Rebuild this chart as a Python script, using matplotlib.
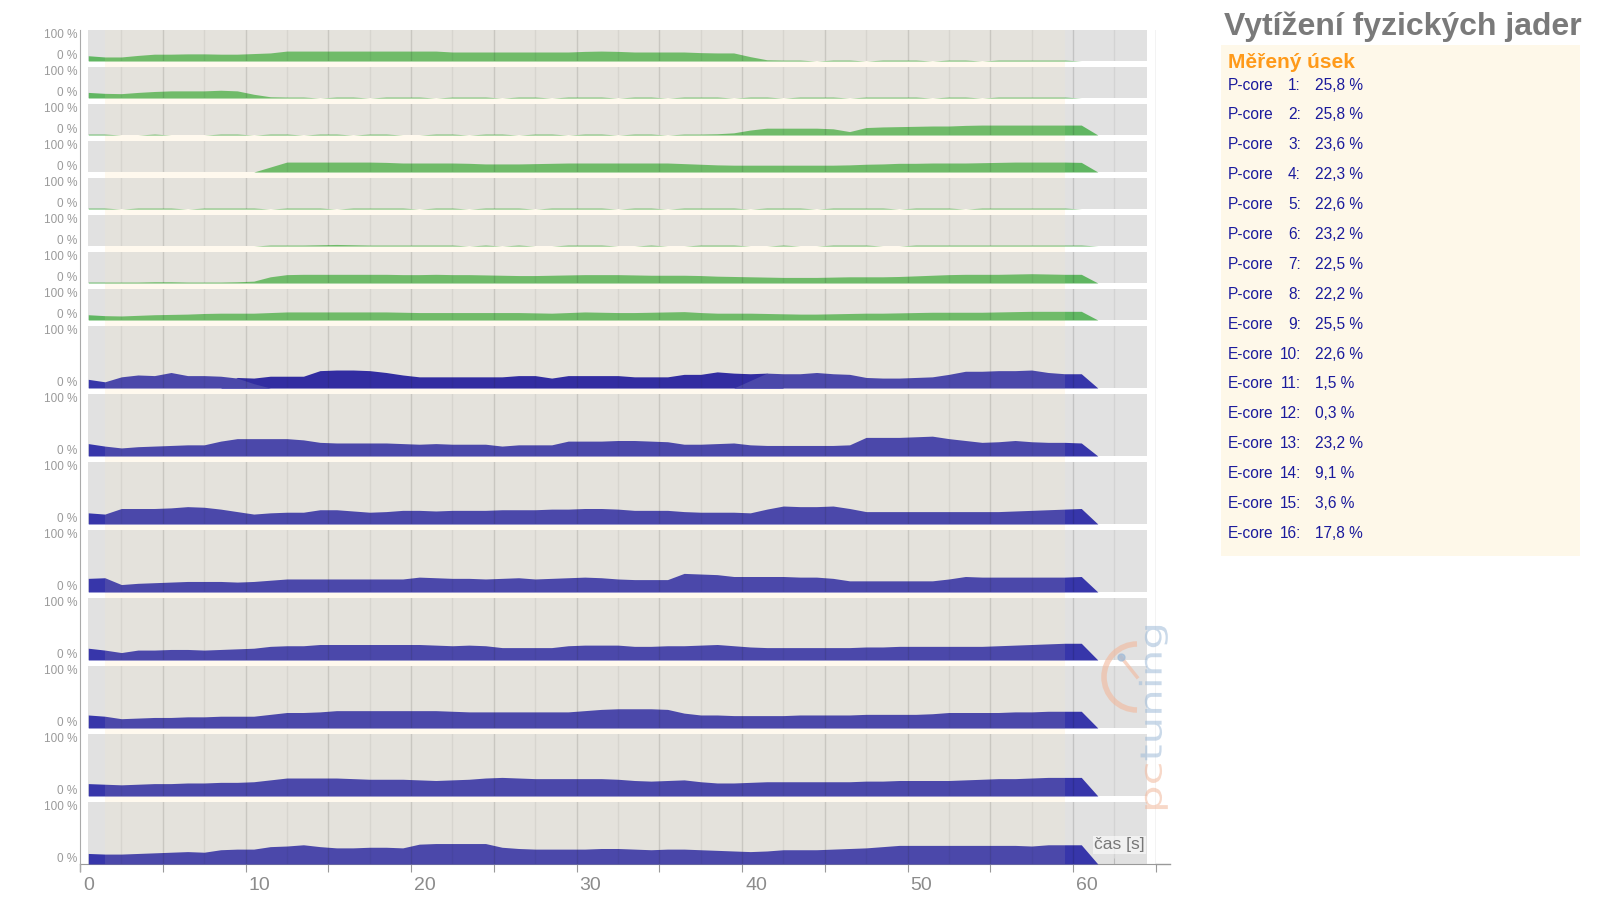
import numpy as np
import matplotlib.pyplot as plt
import matplotlib.transforms as mtrans
from matplotlib import font_manager
from matplotlib.font_manager import FontProperties
from matplotlib.patches import Rectangle, Arc, PathPatch
from matplotlib.textpath import TextPath

W, H = 1599, 897

# samples every second, drawn at the middle of each second
time = np.arange(61) + 0.5
t_end = 61.5

p1 = [17, 13, 13, 18, 22, 22, 23, 23, 22, 22, 24, 26, 32, 32, 32, 32, 32, 32, 32, 32,
      32, 32, 29, 29, 29, 29, 29, 29, 29, 29, 31, 32, 31, 29, 29, 29, 29, 27, 26, 26,
      14, 4, 3, 3, 0, 3, 3, 0, 3, 3, 3, 0, 3, 3, 0, 3, 3, 3, 3, 3, 0]
p2 = [18, 15, 14, 18, 21, 23, 23, 23, 25, 23, 12, 4, 3, 3, 0, 3, 3, 0, 3, 3,
      3, 0, 3, 3, 3, 0, 3, 3, 0, 3, 3, 3, 0, 3, 3, 0, 3, 3, 3, 0,
      3, 3, 0, 3, 3, 3, 0, 3, 3, 3, 3, 0, 3, 3, 0, 3, 3, 3, 3, 3, 0]
p3 = [3, 3, 0, 0, 3, 0, 0, 0, 3, 3, 0, 3, 3, 0, 3, 3, 0, 3, 3, 0,
      0, 3, 3, 0, 3, 3, 0, 3, 3, 0, 3, 3, 0, 3, 3, 0, 3, 3, 4, 7,
      16, 22, 22, 22, 22, 20, 11, 24, 26, 27, 28, 29, 29, 31, 32, 32, 32, 32, 32, 32, 32]
p4 = [0, 0, 0, 0, 0, 0, 0, 0, 0, 0, 0, 16, 32, 32, 32, 32, 32, 32, 31, 29,
      29, 29, 29, 28, 26, 26, 26, 27, 28, 29, 29, 29, 29, 29, 29, 29, 27, 25, 23, 22,
      22, 22, 22, 22, 22, 22, 23, 25, 26, 28, 28, 29, 29, 29, 30, 31, 32, 32, 32, 32, 31]
p5 = [3, 3, 0, 3, 3, 3, 0, 3, 3, 3, 3, 0, 3, 3, 3, 0, 3, 3, 3, 3,
      0, 3, 3, 0, 3, 3, 3, 0, 3, 3, 3, 3, 0, 3, 3, 0, 3, 3, 3, 3,
      0, 3, 3, 3, 0, 3, 3, 3, 3, 0, 3, 3, 3, 0, 3, 3, 3, 3, 3, 3, 0]
p6 = [0, 0, 0, 0, 0, 0, 0, 0, 0, 0, 0, 3, 3, 3, 4, 5, 4, 3, 3, 3,
      3, 3, 3, 0, 3, 0, 3, 0, 0, 3, 3, 3, 0, 0, 3, 0, 0, 3, 3, 3,
      0, 0, 3, 0, 0, 3, 3, 3, 0, 0, 3, 3, 3, 3, 3, 3, 3, 3, 3, 3, 3]
p7 = [3, 3, 3, 3, 4, 4, 3, 3, 3, 4, 6, 20, 27, 28, 28, 28, 28, 28, 28, 27,
      27, 28, 27, 27, 26, 25, 24, 24, 25, 26, 27, 27, 27, 26, 25, 25, 25, 24, 22, 21,
      20, 19, 18, 18, 18, 19, 20, 20, 20, 21, 23, 25, 27, 28, 28, 28, 29, 30, 29, 28, 28]
p8 = [17, 14, 13, 15, 17, 18, 19, 21, 22, 22, 22, 24, 26, 26, 26, 26, 26, 26, 26, 25,
      24, 24, 24, 24, 24, 24, 24, 23, 22, 24, 26, 25, 24, 24, 25, 26, 27, 24, 22, 22,
      22, 21, 20, 19, 19, 20, 21, 22, 22, 23, 24, 25, 25, 25, 25, 26, 27, 28, 28, 28, 28]
e9_light = [14, 10, 18, 21, 20, 25, 20, 20, 19, 16, 7, 0, 0, 0, 0, 0, 0, 0, 0, 0,
            0, 0, 0, 0, 0, 0, 0, 0, 0, 0, 0, 0, 0, 0, 0, 0, 0, 0, 0, 0,
            12, 24, 23, 23, 25, 23, 22, 17, 16, 16, 17, 18, 22, 27, 27, 28, 28, 29, 25, 23, 23]
e9_dark = [0, 0, 0, 0, 0, 0, 0, 0, 0, 17, 16, 19, 19, 19, 28, 29, 29, 28, 25, 21,
           18, 18, 18, 18, 18, 18, 20, 20, 16, 20, 20, 20, 20, 18, 18, 18, 22, 22, 26, 24,
           23, 24, 0, 0, 0, 0, 0, 0, 0, 0, 0, 0, 0, 0, 0, 0, 0, 0, 0, 0, 0]
e10 = [20, 16, 13, 15, 16, 17, 18, 18, 24, 28, 28, 28, 28, 26, 22, 21, 21, 21, 21, 20,
       19, 20, 19, 19, 19, 16, 18, 18, 18, 24, 24, 24, 25, 25, 24, 23, 19, 19, 20, 21,
       18, 17, 17, 17, 17, 17, 18, 30, 30, 30, 31, 32, 28, 25, 22, 23, 25, 23, 22, 22, 21]
e11 = [18, 16, 25, 25, 25, 26, 28, 27, 24, 20, 16, 18, 19, 19, 23, 23, 21, 19, 20, 22,
       22, 21, 22, 22, 22, 23, 23, 23, 24, 24, 25, 25, 24, 22, 22, 22, 20, 19, 19, 19,
       18, 24, 29, 28, 28, 29, 25, 20, 20, 20, 20, 20, 20, 20, 20, 20, 21, 22, 23, 24, 25]
e12 = [22, 23, 12, 14, 15, 16, 17, 17, 17, 16, 17, 19, 21, 21, 21, 21, 21, 21, 21, 21,
       24, 23, 22, 22, 21, 22, 23, 21, 22, 23, 24, 23, 21, 20, 20, 20, 30, 29, 28, 25,
       25, 25, 25, 24, 24, 22, 18, 18, 18, 18, 18, 18, 21, 25, 24, 24, 24, 24, 24, 24, 25]
e13 = [19, 16, 12, 16, 16, 17, 17, 16, 17, 18, 19, 22, 23, 23, 25, 25, 25, 25, 25, 25,
       25, 24, 23, 24, 23, 20, 20, 20, 20, 23, 24, 24, 24, 22, 22, 23, 23, 24, 25, 23,
       21, 20, 20, 20, 20, 20, 20, 21, 21, 22, 22, 22, 22, 22, 22, 23, 24, 25, 26, 27, 27]
e14 = [21, 19, 15, 16, 17, 17, 18, 18, 19, 19, 19, 22, 25, 25, 26, 28, 28, 28, 28, 28,
       28, 28, 27, 26, 26, 26, 26, 26, 26, 26, 28, 30, 31, 31, 31, 30, 24, 21, 21, 20,
       20, 20, 20, 21, 21, 21, 21, 22, 22, 22, 22, 23, 25, 25, 25, 25, 26, 26, 27, 27, 27]
e15 = [20, 19, 18, 19, 20, 20, 21, 21, 22, 22, 23, 26, 29, 29, 29, 29, 28, 27, 27, 27,
       26, 25, 26, 27, 29, 30, 29, 28, 28, 28, 28, 28, 27, 25, 24, 25, 26, 23, 21, 21,
       22, 23, 23, 23, 23, 23, 23, 24, 24, 25, 25, 25, 25, 26, 27, 28, 28, 29, 30, 30, 30]
e16 = [17, 16, 16, 17, 18, 19, 20, 19, 23, 24, 24, 28, 29, 31, 28, 26, 26, 27, 27, 26,
       32, 33, 33, 33, 33, 27, 25, 24, 24, 24, 24, 25, 25, 24, 23, 24, 24, 23, 22, 21,
       20, 21, 23, 23, 23, 24, 25, 26, 28, 30, 30, 30, 30, 30, 30, 30, 30, 29, 31, 31, 31]

core_names = ['P-core', 'P-core', 'P-core', 'P-core', 'P-core', 'P-core', 'P-core', 'P-core',
              'E-core', 'E-core', 'E-core', 'E-core', 'E-core', 'E-core', 'E-core', 'E-core']
core_ids = list(range(1, 17))
core_load = ['25,8', '25,8', '23,6', '22,3', '22,6', '23,2', '22,5', '22,2',
             '25,5', '22,6', '1,5', '0,3', '23,2', '9,1', '3,6', '17,8']

fonts = {f.name for f in font_manager.fontManager.ttflist}
narrow = 'Liberation Sans Narrow' if 'Liberation Sans Narrow' in fonts else 'Liberation Sans'
plt.rcParams['font.family'] = ['Liberation Sans', 'DejaVu Sans']

green = '#60b662'
blue = '#3736aa'
dark_blue = '#1b18a0'

fig = plt.figure(figsize=(W / 100, H / 100), dpi=100)


def fig_box(x0, y0, x1, y1):
    return [x0 / W, 1 - y1 / H, (x1 - x0) / W, (y1 - y0) / H]


def row_box(i):
    if i < 8:
        return 30 + 37 * i, 31
    return 326 + 68 * (i - 8), 62


X0 = 80
X1 = 80 + 65 * 16.55

# background axis in seconds (x) and pixels (y): measured band, row panels, time axis
bg = fig.add_axes(fig_box(X0, 30, X1, 864))
bg.set_xlim(0, 65)
bg.set_ylim(864, 30)
bg.axvspan(1.5, 59.5, color='#fff9ee', lw=0)
for i in range(16):
    top, h = row_box(i)
    bg.add_patch(Rectangle((0.5, top), 64, h, color='#e1e1e1', lw=0))
bg.axvline(65, color='#c4c4c4', lw=1)
bg.spines['top'].set_visible(False)
bg.spines['right'].set_visible(False)
bg.spines['left'].set_color('#aaaaaa')
bg.spines['bottom'].set_color('#999999')
bg.set_yticks([])
major = np.arange(0, 66, 5)
bg.set_xticks(major)
bg.set_xticklabels([str(v) if v % 10 == 0 and v <= 60 else '' for v in major], ha='left')
bg.set_xticks(np.arange(2.5, 65, 5), minor=True)
bg.tick_params(axis='x', which='major', direction='out', length=6, color='#999999',
               labelsize=14, labelcolor='#8c8c8c', pad=3)
bg.tick_params(axis='x', which='minor', direction='in', length=4, color='#c4c4c4')
shift = mtrans.ScaledTranslation(3 / 100, 0, fig.dpi_scale_trans)
for lab in bg.get_xticklabels():
    lab.set_family(narrow)
    lab.set_transform(lab.get_transform() + shift)

rows = [(p1, green), (p2, green), (p3, green), (p4, green),
        (p5, green), (p6, green), (p7, green), (p8, green),
        (e9_light, blue), (e10, blue), (e11, blue), (e12, blue),
        (e13, blue), (e14, blue), (e15, blue), (e16, blue)]

tt = np.append(time, t_end)
for i, (vals, col) in enumerate(rows):
    top, h = row_box(i)
    ax = fig.add_axes(fig_box(X0, top, X1, top + h))
    ax.set_xlim(0, 65)
    ax.set_ylim(0, 100)
    ax.axis('off')
    if i == 8:
        ax.fill_between(tt, np.append(e9_dark, 0), color=dark_blue, lw=0, zorder=1)
    ax.fill_between(tt, np.append(vals, 0), color=col, lw=0, zorder=1)
    for g in np.arange(2.5, 63, 2.5):
        ax.axvline(g, color='black', alpha=0.13 if g % 5 == 0 else 0.06, lw=1, zorder=2)
    ax.axvspan(1.5, 59.5, color='#ffeeb0', alpha=0.1, lw=0, zorder=3)
    fig.text(77 / W, 1 - (top + 5) / H, '100 %', ha='right', va='center',
             fontsize=8.5, color='#9a9a9a', family=narrow)
    fig.text(77 / W, 1 - (top + h - 5) / H, '0 %', ha='right', va='center',
             fontsize=8.5, color='#9a9a9a', family=narrow)

# overlay in pixel coordinates
ov = fig.add_axes([0, 0, 1, 1])
ov.set_xlim(0, W)
ov.set_ylim(H, 0)
ov.axis('off')
ov.patch.set_alpha(0)

ov.plot([X1, 1170], [864, 864], color='#999999', lw=1)
ov.plot([X0, X0], [864, 871], color='#aaaaaa', lw=1)

ov.text(1145, 845, 'čas [s]', ha='right', va='center', fontsize=12.5, color='#777777',
        bbox=dict(facecolor='white', alpha=0.55, edgecolor='none', pad=1))

# watermark, written upwards and stretched along the baseline
ov.add_patch(Arc((1137, 677), 66, 66, theta1=90, theta2=270, color='#f2b89c',
                 alpha=0.6, lw=4))
ov.plot([1137, 1121], [677, 657], color='#f2b89c', alpha=0.6, lw=2.5)
ov.plot([1121], [657], 'o', color='#9fbbd8', alpha=0.7, ms=5)
wm_font = FontProperties(family='DejaVu Sans')
su, sv, bx, by = 43.5, 30, 1161.6, 813
wm_tf = mtrans.Affine2D(np.array([[0, -sv, bx], [-su, 0, by], [0, 0, 1]]))
pc_path = TextPath((0, 0), 'pc', size=1, prop=wm_font)
tun_path = TextPath((1.185, 0), 'tuning', size=1, prop=wm_font)
ov.add_patch(PathPatch(wm_tf.transform_path(pc_path), facecolor='#f2b89c',
                       edgecolor='none', alpha=0.55))
ov.add_patch(PathPatch(wm_tf.transform_path(tun_path), facecolor='#9fbbd8',
                       edgecolor='none', alpha=0.55))

# right panel
ov.text(1224, 27, 'Vytížení fyzických jader', ha='left', va='center', fontsize=23,
        fontweight='bold', color='#7a7a7a')
ov.add_patch(Rectangle((1221, 45), 359, 511, color='#fef8e9', lw=0))
ov.text(1228, 62, 'Měřený úsek', ha='left', va='center', fontsize=15,
        fontweight='bold', color='#ff9a1a')
for i in range(16):
    y = 85 + 29.9 * i
    ov.text(1228, y, core_names[i], ha='left', va='center', fontsize=11.2, color='#1a1a9c')
    ov.text(1301, y, f'{core_ids[i]}:', ha='right', va='center', fontsize=11.2, color='#1a1a9c')
    ov.text(1315, y, f'{core_load[i]} %', ha='left', va='center', fontsize=11.2, color='#1a1a9c')

fig.savefig('out.png', dpi=100)
